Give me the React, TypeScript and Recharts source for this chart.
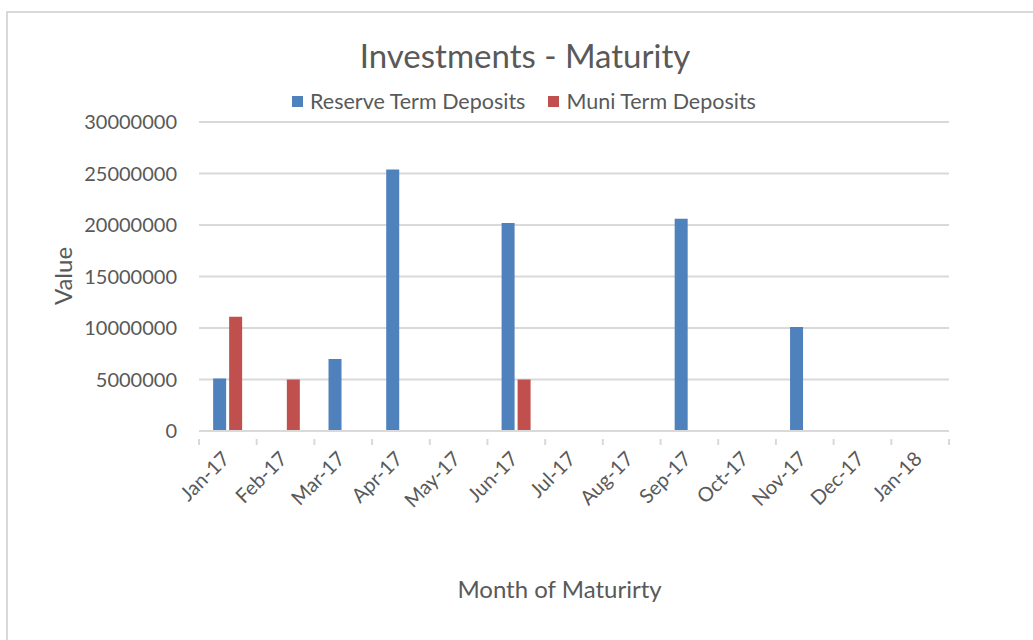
import React from "react";
import { BarChart, Bar, XAxis, YAxis, CartesianGrid, Legend } from "recharts";

const months = ["Jan-17", "Feb-17", "Mar-17", "Apr-17", "May-17", "Jun-17", "Jul-17", "Aug-17", "Sep-17", "Oct-17", "Nov-17", "Dec-17", "Jan-18"];
const reserve = [5100000, 0, 7000000, 25400000, 0, 20200000, 0, 0, 20600000, 0, 10100000, 0, 0];
const muni = [11100000, 5000000, 0, 0, 0, 5000000, 0, 0, 0, 0, 0, 0, 0];
const yTicks = [0, 5000000, 10000000, 15000000, 20000000, 25000000, 30000000];

const data = months.map((m, i) => ({ month: m, reserve: reserve[i], muni: muni[i] }));

const FONT = "Lato, 'Open Sans', sans-serif";
const TEXT = "#595959";
const GRID = "#d9d9d9";
const BLUE = "#4F81BD";
const RED = "#C0504D";

const XTick = (props: any) => {
  const { x, y, payload, index, visibleTicksCount } = props;
  const off = payload.offset || 0;
  const last = index === (visibleTicksCount ?? months.length) - 1;
  return (
    <g>
      <line x1={x - off} x2={x - off} y1={y} y2={y + 6} stroke={GRID} strokeWidth={2} />
      {last && <line x1={x + off} x2={x + off} y1={y} y2={y + 6} stroke={GRID} strokeWidth={2} />}
      <text
        x={x + 3}
        y={y + 21}
        textAnchor="end"
        fill={TEXT}
        fontSize={20}
        fontFamily={FONT}
        transform={`rotate(-45 ${x + 3} ${y + 21})`}
      >
        {payload.value}
      </text>
    </g>
  );
};

const LegendContent = () => (
  <div style={{ display: "flex", justifyContent: "center", alignItems: "center", fontFamily: FONT, fontSize: 21.5, color: TEXT }}>
    <span style={{ display: "inline-block", width: 11, height: 11, background: BLUE, marginRight: 7 }} />
    <span style={{ marginRight: 23 }}>Reserve Term Deposits</span>
    <span style={{ display: "inline-block", width: 11, height: 11, background: RED, marginRight: 7 }} />
    <span>Muni Term Deposits</span>
  </div>
);

export default function App() {
  return (
    <div style={{ position: "absolute", left: 0, top: 0, width: 1033, height: 640, background: "#fff", overflow: "hidden" }}>
      <div style={{ position: "absolute", left: 6, top: 11, width: 1100, height: 700, border: `2px solid ${GRID}`, boxSizing: "border-box" }} />
      <div style={{ position: "absolute", left: 0, width: 1050, top: 35, textAlign: "center", fontFamily: FONT, fontSize: 33, color: TEXT }}>
        Investments - Maturity
      </div>
      <div style={{ position: "absolute", left: 0, width: 1119, top: 574, textAlign: "center", fontFamily: FONT, fontSize: 24, color: TEXT }}>
        Month of Maturirty
      </div>
      <div style={{ position: "absolute", left: 62, top: 276, transform: "translate(-50%, -50%) rotate(-90deg)", fontFamily: FONT, fontSize: 24, color: TEXT, whiteSpace: "nowrap" }}>
        Value
      </div>
      <div style={{ position: "absolute", left: 0, top: 0 }}>
        <BarChart
          width={1033}
          height={640}
          data={data}
          margin={{ top: 122, right: 84, bottom: 149, left: 0 }}
          barCategoryGap="24.5%"
          barGap={3}
        >
          <CartesianGrid vertical={false} stroke={GRID} strokeWidth={2} />
          <XAxis
            dataKey="month"
            interval={0}
            tickLine={false}
            axisLine={{ stroke: GRID, strokeWidth: 2 }}
            tick={<XTick />}
            height={60}
          />
          <YAxis
            width={199}
            domain={[0, 30000000]}
            ticks={yTicks}
            interval={0}
            axisLine={false}
            tickLine={false}
            tickSize={0}
            tickMargin={22}
            tick={{ fill: TEXT, fontSize: 20, fontFamily: FONT }}
          />
          <Legend
            verticalAlign="middle"
            layout="horizontal"
            content={<LegendContent />}
            wrapperStyle={{ position: "absolute", top: 88, left: 0, width: 1048 }}
          />
          <Bar dataKey="reserve" name="Reserve Term Deposits" fill={BLUE} isAnimationActive={false} />
          <Bar dataKey="muni" name="Muni Term Deposits" fill={RED} isAnimationActive={false} />
        </BarChart>
      </div>
    </div>
  );
}
